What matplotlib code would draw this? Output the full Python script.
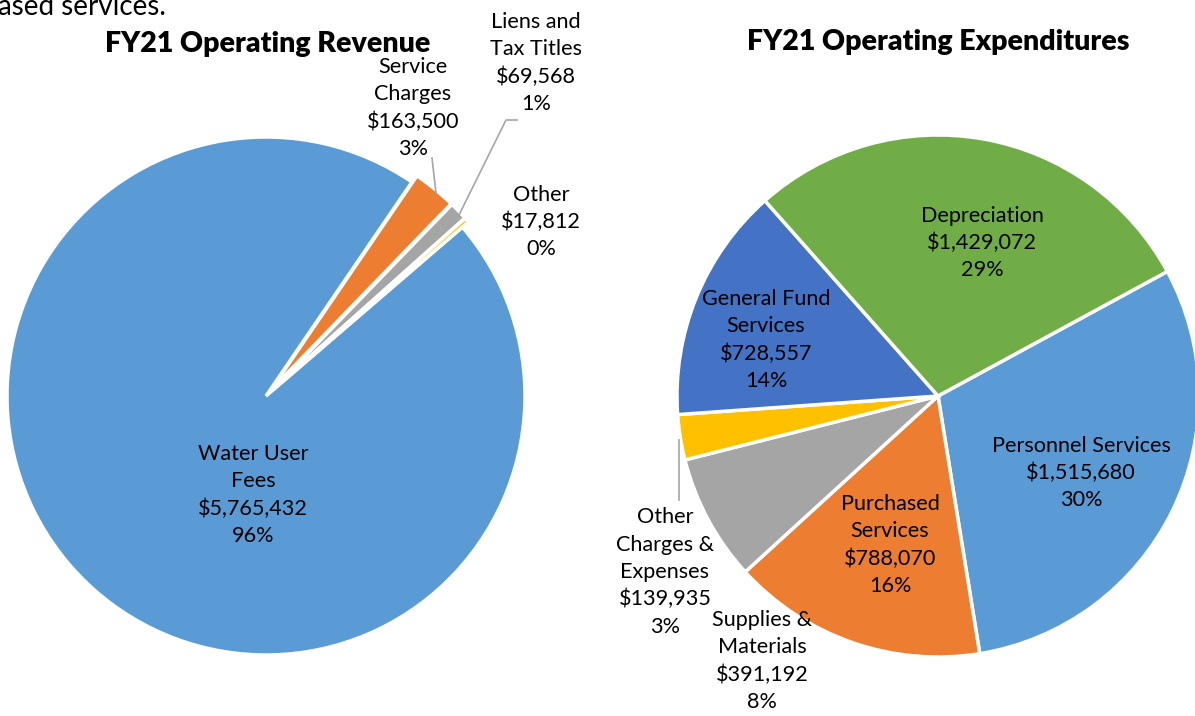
import matplotlib.pyplot as plt

plt.rcParams['font.family'] = ['Lato', 'DejaVu Sans']

# 收入
rev_labels = ['Water User\nFees', 'Service\nCharges', 'Liens and\nTax Titles', 'Other']
rev_values = [5765432, 163500, 69568, 17812]
rev_pct = ['96%', '3%', '1%', '0%']
rev_colors = ['#5B9BD5', '#ED7D31', '#A5A5A5', '#FFC000']

# 支出
exp_labels = ['Personnel Services', 'Purchased\nServices', 'Supplies &\nMaterials',
              'Other\nCharges &\nExpenses', 'General Fund\nServices', 'Depreciation']
exp_values = [1515680, 788070, 391192, 139935, 728557, 1429072]
exp_pct = ['30%', '16%', '8%', '3%', '14%', '29%']
exp_colors = ['#5B9BD5', '#ED7D31', '#A5A5A5', '#FFC000', '#4472C4', '#70AD47']

W, H = 1195, 716
fig = plt.figure(figsize=(W / 100, H / 100), dpi=100)
ax = fig.add_axes([0, 0, 1, 1])

wp = dict(edgecolor='white', linewidth=2.5)
ax.pie(rev_values, colors=rev_colors, startangle=40.7, counterclock=False,
       center=(266, H - 396), radius=259, explode=[0, 8, 8, 8], wedgeprops=wp,
       frame=True)
ax.pie(exp_values, colors=exp_colors, startangle=28.5, counterclock=False,
       center=(938, H - 396), radius=261, wedgeprops=wp, frame=True)
ax.set_xlim(0, W)
ax.set_ylim(0, H)
ax.set_aspect('equal')
ax.axis('off')

fs = 15.6
ls = 1.45


def lab(x, y, name, val, pct):
    ax.text(x, H - y, '%s\n$%s\n%s' % (name, format(val, ','), pct), ha='center',
            va='center', fontsize=fs, linespacing=ls, color='black')


rev_pos = [(253, 495), (413, 108), (536, 63), (541, 222)]
for (x, y), n, v, p in zip(rev_pos, rev_labels, rev_values, rev_pct):
    lab(x, y, n, v, p)

exp_pos = [(1081, 473), (890, 545), (762, 661), (665, 572), (766, 340), (982, 243)]
for (x, y), n, v, p in zip(exp_pos, exp_labels, exp_values, exp_pct):
    lab(x, y, n, v, p)

lc = '#A6A6A6'
ax.plot([432, 436], [H - 158, H - 193], color=lc, lw=1.2)
ax.plot([517, 506, 459], [H - 120, H - 120, H - 215], color=lc, lw=1.2)
ax.plot([679, 679], [H - 440, H - 500], color=lc, lw=1.2)

ax.text(268, H - 44, 'FY21 Operating Revenue', ha='center', va='center',
        fontsize=20.5, fontweight='heavy')
ax.text(938, H - 42, 'FY21 Operating Expenditures', ha='center', va='center',
        fontsize=20.5, fontweight='heavy')
ax.text(-2, H - 15, 'ased services.', ha='left', va='baseline', fontsize=20)

fig.savefig('out.png', dpi=100)
